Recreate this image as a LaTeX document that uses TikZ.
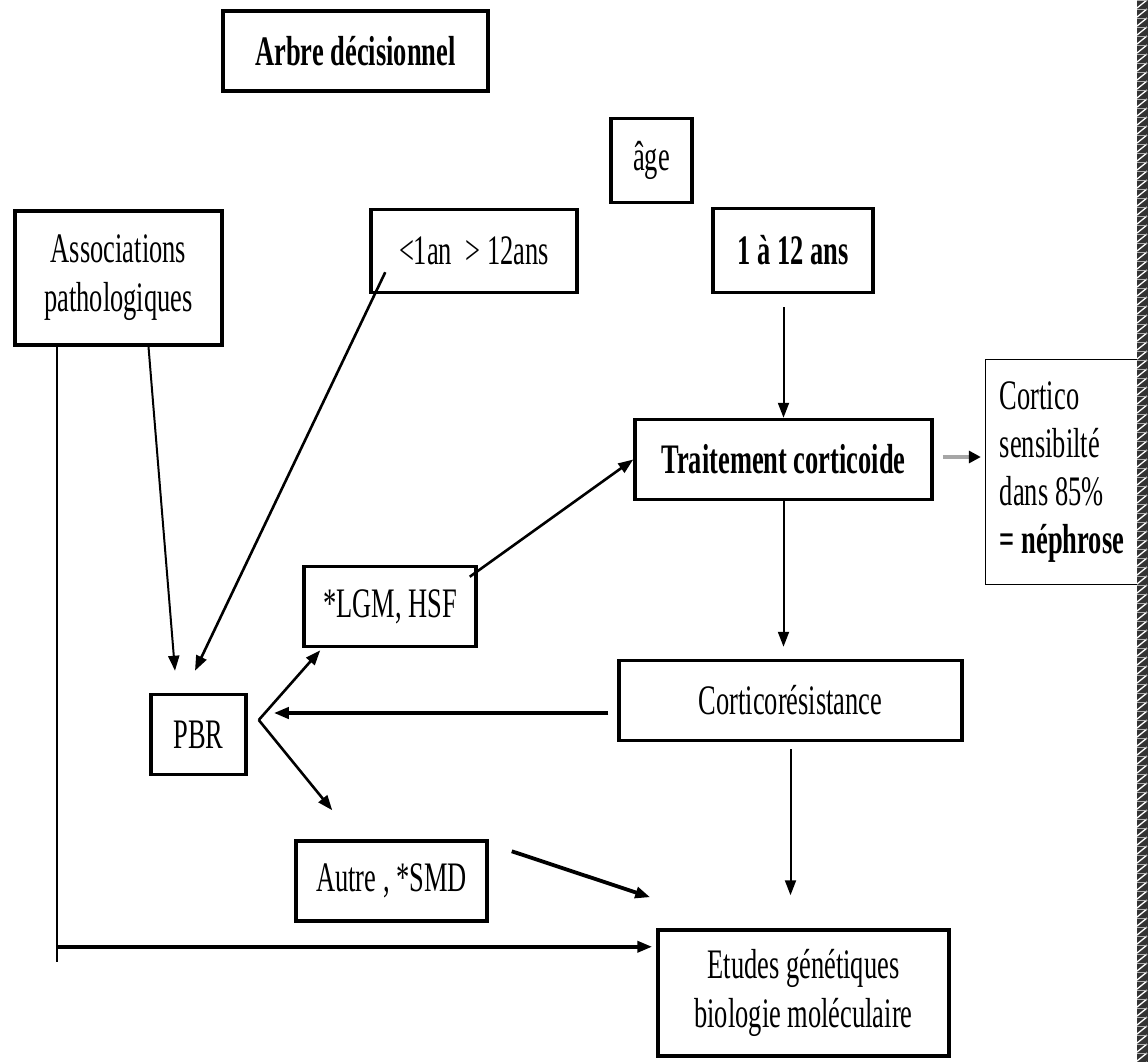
\documentclass[tikz,border=0pt]{standalone}
\usepackage{fontspec}
\setmainfont{Liberation Serif}[FakeStretch=0.63]
\usetikzlibrary{arrows.meta,calc}
\begin{document}
\begin{tikzpicture}[x=1pt,y=-1pt,
  box/.style={draw, line width=3.5pt, inner sep=0pt, align=center,
    font=\fontsize{42}{49}\selectfont},
  bbox/.style={box, font=\fontsize{42}{49}\selectfont\bfseries},
  tip/.style={-{Triangle[length=15pt,width=11pt]}},
  arr/.style={tip, line width=2pt},
  marr/.style={tip, line width=2.6pt},
  tarr/.style={tip, line width=3.8pt},
  grayarr/.style={-{Triangle[length=12pt,width=12pt,color=black]}, line width=4pt, draw=black!35}
]
\useasboundingbox (0,0) rectangle (1148,1062);
\fill[white] (0,0) rectangle (1148,1062);

% nodes
\node[bbox, minimum width=265, minimum height=80] (title) at (355.5,51) {Arbre décisionnel};
\node[box, minimum width=81, minimum height=84] (age) at (651.5,160.5) {âge};
\node[box, minimum width=207, minimum height=134] (assoc) at (118.5,278) {Associations\\pathologiques};
\node[box, minimum width=206, minimum height=83] (young) at (474,251) {<1an \,> 12ans};
\node[bbox, minimum width=160, minimum height=84] (range) at (793,250.5) {1 à 12 ans};
\node[bbox, minimum width=297, minimum height=80] (trait) at (783.5,459.5) {Traitement corticoide};
\node[draw, line width=1.3pt, inner xsep=8pt, inner ysep=0pt, align=left,
      minimum width=153, minimum height=225, font=\fontsize{42}{48}\selectfont] (sens) at (1062,472)
      {Cortico\\sensibilté\\dans 85\%\\\textbf{= néphrose}};
\node[box, minimum width=172, minimum height=80] (lgm) at (390,606.5) {*LGM, HSF};
\node[box, minimum width=95, minimum height=80] (pbr) at (198.5,734.5) {PBR};
\node[box, minimum width=343, minimum height=80] (resist) at (790.5,700.5) {Corticorésistance};
\node[box, minimum width=191, minimum height=80] (autre) at (391.5,881) {Autre , *SMD};
\node[box, minimum width=291, minimum height=126] (etudes) at (803.5,993) {Etudes génétiques\\biologie moléculaire};

% connectors
\draw[arr] ($(range.south -| trait.north)+(0,13)$) -- (trait.north);
\draw[grayarr] ($(trait.east)+(9,-2.5)$) -- ($(trait.east -| sens.west)+(-4,-2.5)$);
\draw[arr, shorten >=12pt] (trait.south) -- (trait.south |- resist.north);
\draw[tarr] ($(resist.west)+(-9,12.5)$) -- ($(pbr.east |- resist.west)+(26,12.5)$);
\coordinate (fork) at ($(pbr.east)+(11,-14.5)$);
\draw[marr] (fork) -- ($(lgm.south west)+(18,2)$);
\draw[marr] (fork) -- ($(autre.north west)+(38,-29)$);
\draw[marr] ($(lgm.north east)+(-8,12)$) -- (trait.west);
\draw[arr] ($(assoc.south)+(30,0)$) -- ($(pbr.north)+(-23.5,-22)$);
\draw[marr] ($(young.south west)+(16,-22)$) -- ($(pbr.north)+(-3.5,-22)$);
\coordinate (corner) at ($(assoc.south west)+(44,600)$);
\draw[line width=2pt] ($(assoc.south west)+(44,0)$) -- ($(corner)+(0,15)$);
\draw[tarr, shorten >=4pt] (corner) -- (corner -| etudes.west);
\draw[tarr] ($(autre.north east)+(23,12)$) -- ($(etudes.north west)+(-6,-31)$);
\draw[arr] ($(resist.south)+(0,7)$) -- ($(resist.south |- etudes.north)+(0,-33)$);

% right border strip
\fill[black!80] (1137,0) rectangle (1148,1062);
\foreach \y in {0,9,...,1062} {
  \draw[white, line width=1.3pt] (1137,\y+8) -- (1147,\y);
  \draw[black!30, line width=0.6pt] (1137,\y) -- (1147,\y);
}
\end{tikzpicture}
\end{document}
